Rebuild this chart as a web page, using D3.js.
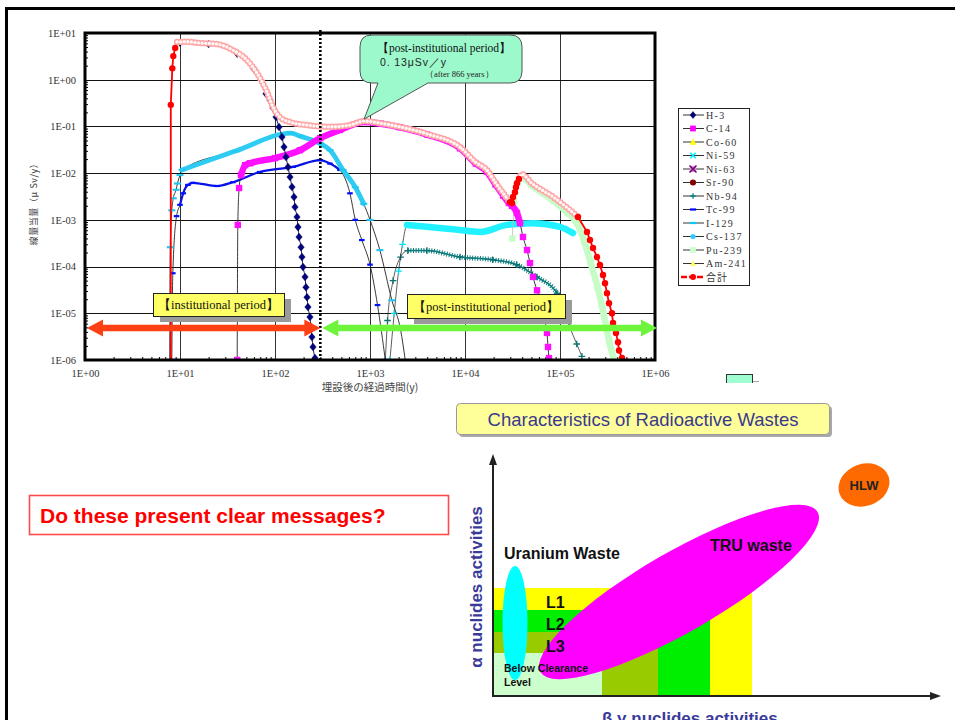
<!DOCTYPE html>
<html><head><meta charset="utf-8">
<script src="https://cdn.jsdelivr.net/npm/d3@7/dist/d3.min.js"></script>
<style>
body{margin:0;background:#fff;}
svg{display:block;}
</style></head>
<body>
<svg id="c" width="955" height="720" xmlns="http://www.w3.org/2000/svg"></svg>
<script>
// ================= DATA =================
const xTickValues = [1, 10, 100, 1e3, 1e4, 1e5, 1e6];
const yTickValues = [1e-6, 1e-5, 1e-4, 1e-3, 1e-2, 1e-1, 1, 10];
const nuclides = ["H-3","C-14","Co-60","Ni-59","Ni-63","Sr-90","Nb-94","Tc-99","I-129","Cs-137","Pu-239","Am-241","合計"];

// [years, µSv/y]
const h3 = [[10,6.2],[20,5.8],[40,3.6],[60,1.7],[80.4,0.5],[88.6,0.367],[95.3,0.248],[102.5,0.159],[110.2,0.097],[118.5,0.0593],[124.4,0.0362],[130.6,0.0221],[137.1,0.0135],[143.9,0.00826],[151,0.00504],[158.5,0.00308],[162.4,0.00188],[170.5,0.00115],[174.6,7.0e-4],[179.1,4.3e-4],[187.9,2.6e-4],[192.3,1.6e-4],[197.2,9.8e-5],[207,6.0e-5],[211.8,3.6e-5],[217.3,2.2e-5],[222.3,1.36e-5],[233.3,8.3e-6],[239.3,5.1e-6],[244.9,3.1e-6],[251.2,1.9e-6],[263.6,1.1e-6]];
const c14 = [[40,1e-6],[40.6,7.8e-4],[41.9,0.0048],[43.9,0.0091],[48.4,0.0148],[54.6,0.0163],[100,0.021],[183,0.031],[299,0.056],[483,0.084],[866,0.125],[1300,0.114],[2070,0.096],[4000,0.067],[8860,0.034],[13000,0.016],[17000,0.0107],[21000,0.0057],[25300,0.0033],[29000,0.0023],[31260,0.0020],[35240,0.0014],[37930,8.5e-4],[40800,4.3e-4],[44980,2.26e-4],[48330,1.19e-4],[52000,6.0e-5],[57280,3.1e-5],[61520,1.92e-5],[66220,9.1e-6],[72950,3.8e-6],[74800,1.9e-6],[76600,1.1e-6]];
const co60 = [];
const ni59 = [[1620,1e-6],[1800,1e-5],[2000,8e-5],[2200,3e-4],[2450,7.8e-4],[3970,7.1e-4],[8000,6.2e-4],[14400,5.5e-4],[27600,7.8e-4],[52000,8.5e-4],[100000,7.1e-4],[137000,5.2e-4]];
const ni63 = [];
const sr90 = [];
const nb94 = [[1450,1e-6],[1530,7e-6],[1750,5e-5],[2100,1.6e-4],[2500,2.2e-4],[3970,2.2e-4],[8860,1.6e-4],[19600,1.4e-4],[35000,1.1e-4],[57000,6e-5],[93000,2.7e-5],[108000,1.17e-5],[127000,5e-6],[150000,2.2e-6],[170000,1.2e-6]];
const tc99 = [[8.2,1e-6],[8.4,7.2e-5],[9.2,0.0012],[10,0.0021],[10.8,0.0037],[12.1,0.0056],[13.7,0.0062],[24.5,0.0053],[36,0.0064],[69,0.0106],[155,0.0136],[299,0.019],[379,0.016],[483,0.0117],[615,0.0037],[700,0.001],[820,3.7e-4],[1000,1.1e-4],[1200,1.5e-5],[1450,1e-6]];
const i129 = [[7.8,1e-6],[7.9,2.6e-4],[8.2,0.0016],[8.5,0.0029],[9.1,0.0044],[9.4,0.006],[10,0.0091],[10.5,0.0117],[38.5,0.0297],[147,0.072],[183,0.062],[300,0.043],[380,0.031],[520,0.0117],[700,0.005],[860,0.0022],[1000,0.001],[1270,2.25e-4],[1700,1.9e-5],[2100,4.4e-6],[2350,1e-6]];
const cs137 = [];
const pu239 = [[31500,4e-4],[33000,0.0025],[36000,0.0062],[40000,0.0082],[50000,0.0055],[84500,0.0026],[120000,0.0014],[151000,8.5e-4],[180000,3.5e-4],[210000,1.2e-4],[250000,3.5e-5],[290000,9e-6],[330000,2.5e-6],[370000,1e-6]];
const am241 = [];
// total (合計), split where the markers are drawn sparse (red) or dense (pink)
const totalRise = [[8.0,1e-6],[8.0,0.29],[8.3,1.75],[8.5,3.2],[8.9,4.8]];
const totalMid = [[9.3,6.4],[11.8,6.5],[16.3,6.1],[24.5,5.8],[36,4.3],[50.6,2.64],[64.5,1.39],[82.3,0.55],[95.3,0.26],[112,0.16],[144,0.124],[217,0.107],[379,0.098],[615,0.107],[866,0.13],[1300,0.117],[2070,0.098],[4000,0.069],[8860,0.036],[13000,0.017],[17000,0.0117],[21000,0.0062],[25300,0.0037],[29700,0.0024]];
const totalJump = [[29700,0.0024],[31260,0.0023],[32030,0.0031],[33600,0.0039],[34400,0.005],[35240,0.0061],[36950,0.0075]];
const totalLate = [[36950,0.0075],[39800,0.0095],[50000,0.0062],[84500,0.0031],[120000,0.0018],[154700,1.15e-3]];
const totalTail = [[154700,1.15e-3],[192400,5.5e-4],[207000,3.7e-4],[222500,2.5e-4],[245000,1.6e-4],[263700,1.08e-4],[283600,6.6e-5],[297700,4.4e-5],[312400,2.7e-5],[328100,1.65e-5],[352500,1.0e-5],[361500,6.2e-6],[388400,3.8e-6],[408200,2.4e-6],[418000,1.6e-6],[449600,1.1e-6]];

const institutionalEnd = 300;           // years
const periodLabels = ["【institutional period】", "【post-institutional period】"];
const peakPoint = [866, 0.13];
const peakNote = ["【post-institutional period】", "0. 13μSv／y", "（after 866 years）"];
const xTitle = "埋設後の経過時間(y)";
const yTitle = "線量当量（μ Sv/y）";
const question = "Do these present clear messages?";
const diagTitle = "Characteristics of Radioactive Wastes";
const levelLabels = ["L1", "L2", "L3"];

// ================= CHART =================
const svg = d3.select('#c');
const M = {l:85, t:33, r:655, b:360};
const x = d3.scaleLog().domain([1, 1e6]).range([M.l, M.r]);
const y = d3.scaleLog().domain([1e-6, 10]).range([M.b, M.t]);
const serif = "'Liberation Serif','DejaVu Serif',serif";
const sans = "'Liberation Sans',Arial,sans-serif";
const cjk = "'Noto Sans CJK JP','Noto Sans CJK SC',sans-serif";

// slide frame
svg.append('rect').attr('x',6.5).attr('y',8.5).attr('width',1000).attr('height',1000)
  .attr('fill','none').attr('stroke','#000').attr('stroke-width',3);

svg.append('defs').append('clipPath').attr('id','clip')
  .append('rect').attr('x',M.l).attr('y',M.t-2).attr('width',M.r-M.l).attr('height',M.b-M.t+3);

// grid
const grid = svg.append('g');
grid.selectAll('line.gx').data(xTickValues).join('line')
  .attr('x1',d=>Math.round(x(d))+0.5).attr('x2',d=>Math.round(x(d))+0.5)
  .attr('y1',M.t).attr('y2',M.b).attr('stroke','#333').attr('stroke-width',1);
grid.selectAll('line.gy').data(yTickValues).join('line')
  .attr('y1',d=>Math.round(y(d))+0.5).attr('y2',d=>Math.round(y(d))+0.5)
  .attr('x1',M.l).attr('x2',M.r).attr('stroke','#111').attr('stroke-width',1);

// axes
const fmt = d => { const e = Math.round(Math.log10(d)); return '1E' + (e<0?'-':'+') + String(Math.abs(e)).padStart(2,'0'); };
const minorY = []; for (let e=-6;e<1;e++) for (let k=2;k<10;k++) minorY.push(k*Math.pow(10,e));
const minorX = []; for (let e=0;e<6;e++) for (let k=2;k<10;k++) minorX.push(k*Math.pow(10,e));

const ay = svg.append('g').attr('transform',`translate(${M.l-1},0)`)
  .call(d3.axisLeft(y).tickValues(yTickValues).tickFormat(fmt).tickSize(0).tickPadding(8));
const ax = svg.append('g').attr('transform',`translate(0,${M.b+2})`)
  .call(d3.axisBottom(x).tickValues(xTickValues).tickFormat(fmt).tickSize(0).tickPadding(8));
[ay, ax].forEach(a => { a.select('.domain').remove();
  a.selectAll('text').attr('font-family',serif).attr('font-size',10.5).attr('fill','#333'); });
svg.append('g').attr('transform',`translate(${M.l},0)`)
  .call(d3.axisLeft(y).tickValues(minorY).tickFormat('').tickSize(-3))
  .call(g=>g.select('.domain').remove()).selectAll('line').attr('stroke','#000');
svg.append('g').attr('transform',`translate(0,${M.b})`)
  .call(d3.axisBottom(x).tickValues(minorX).tickFormat('').tickSize(-3))
  .call(g=>g.select('.domain').remove()).selectAll('line').attr('stroke','#000');

svg.append('text').attr('x',370).attr('y',391).attr('text-anchor','middle')
  .attr('font-family',cjk).attr('font-size',10.5).attr('fill','#444').text(xTitle);
svg.append('text').attr('transform','translate(37,202) rotate(-90)').attr('text-anchor','middle')
  .attr('font-family',cjk).attr('font-size',9).attr('letter-spacing',0.6).attr('fill','#444').text(yTitle);

// ---- series ----
const plot = svg.append('g').attr('clip-path','url(#clip)');
const lin = d3.line().x(d=>x(d[0])).y(d=>y(d[1]));
const smooth = d3.line().x(d=>x(d[0])).y(d=>y(d[1])).curve(d3.curveMonotoneX);

function path(data, color, w, gen, dash, cap){
  const p = plot.append('path').attr('d',(gen||smooth)(data)).attr('fill','none')
    .attr('stroke',color).attr('stroke-width',w).attr('stroke-linejoin','round')
    .attr('stroke-linecap',cap||'round');
  if (dash) p.attr('stroke-dasharray',dash);
  return p;
}
function band(data, from, to, color, w, dash){
  const sub = data.filter(d=>d[0]>=from && d[0]<=to);
  return path(sub, color, w, smooth, dash, dash?'butt':'round');
}
function sym(g, type, cx, cy, color, s){
  s = s||1;
  switch(type){
    case 'diamond': g.append('path').attr('d',`M${cx},${cy-3.8*s}L${cx+3.2*s},${cy}L${cx},${cy+3.8*s}L${cx-3.2*s},${cy}Z`).attr('fill',color).attr('stroke','#000040').attr('stroke-width',0.5); break;
    case 'square': g.append('rect').attr('x',cx-3.2*s).attr('y',cy-3.2*s).attr('width',6.4*s).attr('height',6.4*s).attr('fill',color); break;
    case 'triangle': g.append('path').attr('d',`M${cx},${cy-3.8*s}L${cx+3.8*s},${cy+3*s}L${cx-3.8*s},${cy+3*s}Z`).attr('fill',color); break;
    case 'x': g.append('path').attr('d',`M${cx-3*s},${cy-3*s}L${cx+3*s},${cy+3*s}M${cx-3*s},${cy+3*s}L${cx+3*s},${cy-3*s}`).attr('stroke',color).attr('stroke-width',1.6); break;
    case 'xbox': g.append('rect').attr('x',cx-3).attr('y',cy-3).attr('width',6).attr('height',6).attr('fill','#cc99cc');
      g.append('path').attr('d',`M${cx-3.5},${cy-3.5}L${cx+3.5},${cy+3.5}M${cx-3.5},${cy+3.5}L${cx+3.5},${cy-3.5}`).attr('stroke',color).attr('stroke-width',1.6); break;
    case 'circle': g.append('circle').attr('cx',cx).attr('cy',cy).attr('r',3.4*s).attr('fill',color); break;
    case 'plus': g.append('path').attr('d',`M${cx-3*s},${cy}L${cx+3*s},${cy}M${cx},${cy-3*s}L${cx},${cy+3*s}`).attr('stroke',color).attr('stroke-width',1.3); break;
    case 'dash': g.append('rect').attr('x',cx-3.5*s).attr('y',cy-1.1).attr('width',7*s).attr('height',2.2).attr('fill',color); break;
  }
}
function marks(data, type, color, s){
  const g = plot.append('g');
  data.forEach(d => sym(g, type, x(d[0]), y(d[1]), color, s));
}

// Nb-94
path(nb94, '#333', 0.8);
band(nb94, 2400, 110000, '#0a8080', 5, '1 1.6');
band(nb94, 2400, 110000, '#0a7a7a', 1.5);
marks(nb94, 'plus', '#0a7070', 1.1);
// Ni-59
path(ni59, '#333', 0.8);
band(ni59, 2400, 140000, '#22f2ff', 6.5);
marks(ni59.filter(d=>d[0]<2450), 'plus', '#00ddee', 1.1);
// Tc-99
path(tc99, '#222', 0.9);
band(tc99, 10, 600, '#0a14e6', 2.2);
marks(tc99, 'dash', '#0010ff', 0.8);
// I-129
path(i129, '#222', 0.9);
band(i129, 10.4, 900, '#2ecbf2', 4.8);
marks(i129, 'dash', '#22c8f0', 1);
// Pu-239
path(pu239, '#bbb', 0.8);
band(pu239, 36000, 380000, '#c6fcc6', 6.5);
marks(pu239, 'square', '#c6fcc6', 1);
// C-14
path(c14, '#222', 0.9);
band(c14, 43, 40000, '#ff10ff', 6.5);
marks(c14, 'square', '#ff10ff', 1);
// H-3
path(h3, '#000050', 0.9);
marks(h3, 'diamond', '#000080', 1);
// total
[totalRise, totalJump, totalTail].forEach(s => path(s, '#ff0000', 1.8, lin));
[totalMid, totalLate].forEach(s => {
  path(s, '#ffa4a4', 6.4, smooth, '0 3.6');
  path(s, '#fff6f6', 3.4, smooth, '0 3.6');
});
[totalRise, totalJump, totalTail].forEach(s => {
  const g = plot.append('g');
  s.forEach((d,i) => { if (!(s===totalRise && i===0)) g.append('circle').attr('cx',x(d[0])).attr('cy',y(d[1])).attr('r',3.2).attr('fill','#ff0000'); });
});

// plot frame
svg.append('rect').attr('x',M.l).attr('y',M.t).attr('width',M.r-M.l).attr('height',M.b-M.t)
  .attr('fill','none').attr('stroke','#000').attr('stroke-width',3);

// institutional boundary (dotted)
svg.append('line').attr('x1',x(institutionalEnd)).attr('x2',x(institutionalEnd)).attr('y1',M.t-3).attr('y2',M.b)
  .attr('stroke','#000').attr('stroke-width',2.6).attr('stroke-dasharray','2 2');

// double arrows
function dblArrow(x1, x2, yy, color){
  const h=8.5, L=16, s=3.2;
  const d = `M${x1},${yy}L${x1+L},${yy-h}L${x1+L},${yy-s}L${x2-L},${yy-s}L${x2-L},${yy-h}L${x2},${yy}L${x2-L},${yy+h}L${x2-L},${yy+s}L${x1+L},${yy+s}L${x1+L},${yy+h}Z`;
  svg.append('path').attr('d',d).attr('fill',color);
}
dblArrow(x(1)+2, x(institutionalEnd), 328, '#ff4014');
dblArrow(x(institutionalEnd)+2, x(1e6)+2, 328, '#6cf53a');

// period label boxes
function labelBox(x0, y0, w, h, txt){
  svg.append('rect').attr('x',x0+7).attr('y',y0+6).attr('width',w).attr('height',h).attr('fill','#9a9a9a');
  svg.append('rect').attr('x',x0+0.5).attr('y',y0+0.5).attr('width',w).attr('height',h).attr('fill','#ffff66').attr('stroke','#222').attr('stroke-width',1);
  svg.append('text').attr('x',x0+w/2).attr('y',y0+h/2+4.5).attr('text-anchor','middle')
    .attr('font-family',serif).attr('font-size',12.5).attr('fill','#111').text(txt);
}
labelBox(153, 293, 131, 23, periodLabels[0]);
labelBox(407, 294, 158, 24, periodLabels[1]);

// callout to the peak
{
  const tx = x(peakPoint[0]), ty = y(peakPoint[1]) - 2;
  const X0=360, Y0=35, X1=522, Y1=83, r=12;
  const d = `M${X0+r},${Y0}L${X1-r},${Y0}Q${X1},${Y0} ${X1},${Y0+r}L${X1},${Y1-r}Q${X1},${Y1} ${X1-r},${Y1}`+
            `L428,${Y1}L${tx},${ty}L378,${Y1}L${X0+r},${Y1}Q${X0},${Y1} ${X0},${Y1-r}L${X0},${Y0+r}Q${X0},${Y0} ${X0+r},${Y0}Z`;
  svg.append('path').attr('d',d).attr('fill','#9cf9cc').attr('stroke','#555').attr('stroke-width',1);
  svg.append('text').attr('x',444).attr('y',52).attr('text-anchor','middle').attr('font-family',serif).attr('font-size',11.5).attr('fill','#111').text(peakNote[0]);
  svg.append('text').attr('x',380).attr('y',66).attr('font-family',sans).attr('font-size',10.5).attr('letter-spacing',0.9).attr('fill','#222').text(peakNote[1]);
  svg.append('text').attr('x',425).attr('y',77).attr('font-family',serif).attr('font-size',8.5).attr('fill','#222').text(peakNote[2]);
}

// stray small box below the legend
svg.append('rect').attr('x',726.5).attr('y',374.5).attr('width',26).attr('height',9).attr('fill','#a0ffd0').attr('stroke','#333').attr('stroke-width',1);
svg.append('rect').attr('x',726).attr('y',383).attr('width',28).attr('height',3).attr('fill','#fff');
svg.append('line').attr('x1',753).attr('x2',759).attr('y1',381.5).attr('y2',381.5).attr('stroke','#aaa');

// legend
{
  const lg = svg.append('g');
  lg.append('rect').attr('x',678.5).attr('y',108.5).attr('width',71).attr('height',177).attr('fill','#fff').attr('stroke','#222');
  const styles = [
    ['diamond','#000080'],['square','#ff00ff'],['triangle','#ffff00'],['x','#00f0ff'],['xbox','#800080'],
    ['circle','#800000'],['plus','#008080'],['dash','#0000ff'],['dash','#00ccff'],['circle','#33ccff'],
    ['square','#ccffcc'],['triangle','#ffff66'],['circle','#ff0000']];
  nuclides.forEach((n,i) => {
    const yy = 115 + i*13.5;
    if (i === nuclides.length-1) {
      lg.append('line').attr('x1',681).attr('x2',705).attr('y1',yy).attr('y2',yy).attr('stroke','#ff0000').attr('stroke-width',2.5).attr('stroke-dasharray','6 2');
    } else {
      lg.append('line').attr('x1',683).attr('x2',704).attr('y1',yy).attr('y2',yy).attr('stroke','#333').attr('stroke-width',1);
    }
    const st = styles[i];
    sym(lg, st[0], 693, yy, st[1], (st[0]==='circle' && i===9)?0.75:(i===11?0.8:0.9));
    lg.append('text').attr('x',706).attr('y',yy+3.5).attr('font-family', i===nuclides.length-1 ? cjk : serif)
      .attr('font-size',10).attr('letter-spacing', i===nuclides.length-1 ? 1 : 1.3).attr('fill','#333').text(n);
  });
}

// ================= LEFT QUESTION BOX =================
svg.append('rect').attr('x',29.5).attr('y',495.5).attr('width',419).attr('height',39).attr('fill','#fff').attr('stroke','#ff4a4a').attr('stroke-width',1.6);
svg.append('text').attr('x',40).attr('y',523).attr('font-family',sans).attr('font-weight','bold').attr('font-size',21).attr('fill','#ff0000').text(question);

// ================= WASTE DIAGRAM =================
{
  const g = svg.append('g');
  // title
  g.append('rect').attr('x',459).attr('y',406).attr('width',373).attr('height',31).attr('rx',4).attr('fill','#a8a8a8');
  g.append('rect').attr('x',456.5).attr('y',403.5).attr('width',373).attr('height',31).attr('rx',4).attr('fill','#ffff99').attr('stroke','#999').attr('stroke-width',1);
  g.append('text').attr('x',643).attr('y',426).attr('text-anchor','middle').attr('font-family',sans).attr('font-size',18.5).attr('fill','#3a3a8c').text(diagTitle);

  // class regions
  const ox = 493, oy = 696;
  const regions = [[752,588,'#ffff00'],[710,610,'#00ee00'],[658,632,'#99cc00'],[602,653,'#ccffcc']];
  regions.forEach(r => g.append('rect').attr('x',ox).attr('y',r[1]).attr('width',r[0]-ox).attr('height',oy-r[1]).attr('fill',r[2]));

  // axes
  g.append('line').attr('x1',ox).attr('x2',ox).attr('y1',oy+1).attr('y2',462).attr('stroke','#222').attr('stroke-width',2);
  g.append('path').attr('d',`M${ox},454L${ox+4},465L${ox-4},465Z`).attr('fill','#222');
  g.append('line').attr('x1',ox-1).attr('x2',932).attr('y1',oy).attr('y2',oy).attr('stroke','#222').attr('stroke-width',2);
  g.append('path').attr('d',`M941,${oy}L930,${oy-4}L930,${oy+4}Z`).attr('fill','#222');

  // ellipses
  g.append('ellipse').attr('cx',515).attr('cy',623).attr('rx',12.5).attr('ry',57).attr('fill','#00ffff');
  g.append('ellipse').attr('cx',679).attr('cy',592).attr('rx',160).attr('ry',40).attr('transform','rotate(-30 679 592)').attr('fill','#ff00ff');
  g.append('ellipse').attr('cx',864).attr('cy',485).attr('rx',26).attr('ry',21).attr('transform','rotate(-20 864 485)').attr('fill','#ff6a00');

  // labels
  const b = (t,xx,yy,fs) => g.append('text').attr('x',xx).attr('y',yy).attr('font-family',sans).attr('font-weight','bold').attr('font-size',fs).attr('fill','#111').text(t);
  levelLabels.forEach((l,i) => b(l, 546, 608 + i*22, 16));
  b('Uranium Waste', 504, 559, 16);
  b('TRU waste', 710, 551, 16);
  b('Below Clearance', 504, 672, 10.5);
  b('Level', 504, 686, 10.5);
  g.append('text').attr('x',864).attr('y',490).attr('text-anchor','middle').attr('font-family',sans).attr('font-weight','bold').attr('font-size',13).attr('fill','#222').text('HLW');
  g.append('text').attr('transform','translate(482,587) rotate(-90)').attr('text-anchor','middle').attr('font-family',sans).attr('font-weight','bold').attr('font-size',17).attr('fill','#3a3a9a').text('α nuclides activities');
  g.append('text').attr('x',602).attr('y',724).attr('font-family',sans).attr('font-weight','bold').attr('font-size',17).attr('fill','#3a3a9a').text('β γ nuclides activities');
}
</script>
</body></html>
